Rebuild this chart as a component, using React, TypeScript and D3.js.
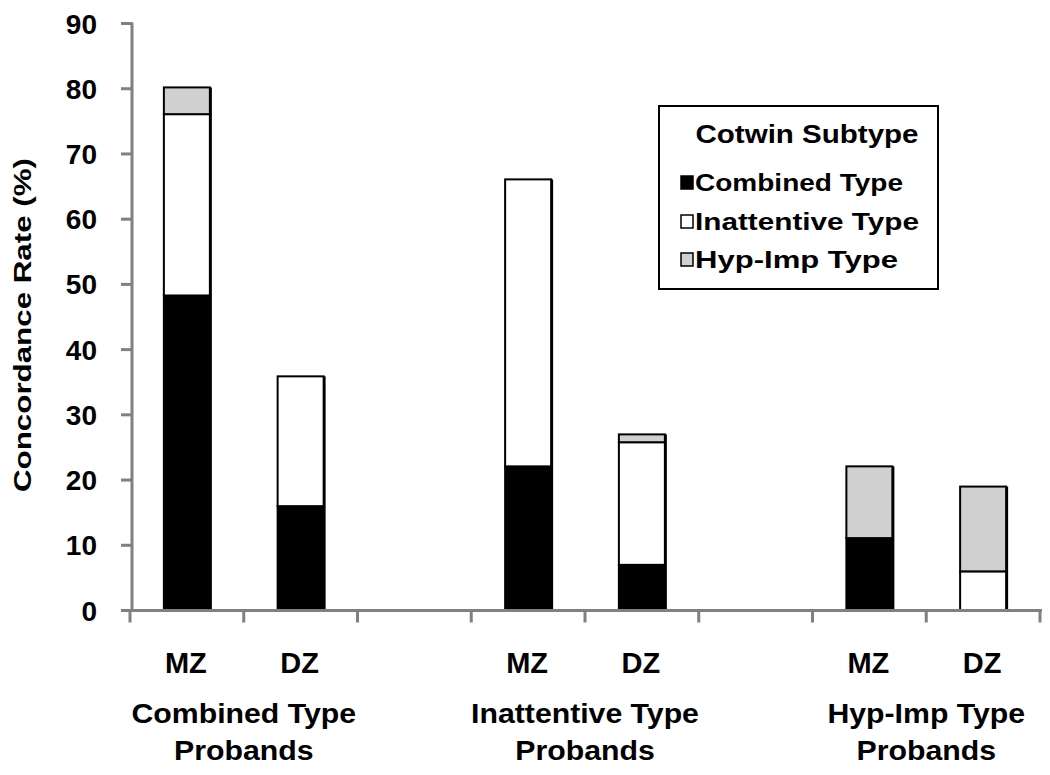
import React from "react";
import * as d3 from "d3";

const slots = ["CT-MZ", "CT-DZ", "gap1", "IT-MZ", "IT-DZ", "gap2", "HI-MZ", "HI-DZ"];
const barKeys = ["CT-MZ", "CT-DZ", "IT-MZ", "IT-DZ", "HI-MZ", "HI-DZ"];
const barLabels = ["MZ", "DZ", "MZ", "DZ", "MZ", "DZ"];
const groupLines = [
  ["Combined Type", "Probands"],
  ["Inattentive Type", "Probands"],
  ["Hyp-Imp Type", "Probands"],
];
const groupCenters = [
  ["CT-MZ", "CT-DZ"],
  ["IT-MZ", "IT-DZ"],
  ["HI-MZ", "HI-DZ"],
];
const combinedType = [48.3, 16.0, 22.1, 7.0, 11.1, 0];
const inattentiveType = [27.8, 19.9, 44.0, 18.8, 0, 6.0];
const hypImpType = [4.1, 0, 0, 1.2, 11.0, 13.0];
const seriesNames = ["Combined Type", "Inattentive Type", "Hyp-Imp Type"];
const seriesColors = ["#000000", "#ffffff", "#d0d0d0"];
const yTicks = [0, 10, 20, 30, 40, 50, 60, 70, 80, 90];

const FONT = "'Liberation Sans', Arial, sans-serif";

export default function App() {
  const x = d3.scaleBand().domain(slots).range([130, 1040]).padding(0);
  const y = d3.scaleLinear().domain([0, 90]).range([610.5, 23.5]);
  const rows = barKeys.map((k, i) => ({
    key: k,
    c: combinedType[i],
    n: inattentiveType[i],
    h: hypImpType[i],
  }));
  const stack = d3.stack<any>().keys(["c", "n", "h"]);
  const layers = stack(rows);
  const barW = 46;
  const axisColor = "#808080";
  const tickPositions = slots.map((s) => x(s)!).concat([x.range()[1]]);

  return (
    <svg
      width={1050}
      height={775}
      style={{ position: "absolute", left: 0, top: 0, background: "#fff" }}
      fontFamily={FONT}
    >
      <rect width={1050} height={775} fill="#fff" />
      {/* bars */}
      {layers.map((layer, li) =>
        layer.map((d, i) => {
          const v = d[1] - d[0];
          if (v <= 0) return null;
          const cx = x(rows[i].key)! + x.bandwidth() / 2;
          return (
            <rect
              key={`${li}-${i}`}
              x={cx - barW / 2}
              y={y(d[1])}
              width={barW}
              height={y(d[0]) - y(d[1])}
              fill={seriesColors[li]}
              stroke="#000"
              strokeWidth={2}
            />
          );
        })
      )}
      {/* right shadow edge of bars */}
      {rows.map((r, i) => {
        const top = layers[2][i][1];
        const cx = x(r.key)! + x.bandwidth() / 2;
        return (
          <line
            key={`sh-${i}`}
            x1={cx + barW / 2 + 1}
            x2={cx + barW / 2 + 1}
            y1={y(top)}
            y2={y(0)}
            stroke="#000"
            strokeWidth={2}
          />
        );
      })}
      {/* y axis */}
      <line x1={132} x2={132} y1={y(90) - 1} y2={y(0)} stroke={axisColor} strokeWidth={3} />
      {yTicks.map((t) => (
        <g key={t}>
          <line x1={121} x2={132} y1={y(t)} y2={y(t)} stroke={axisColor} strokeWidth={3} />
          <text
            x={97}
            y={y(t) + 10}
            textAnchor="end"
            fontSize={28}
            fontWeight="bold"
            fill="#000"
          >
            {t}
          </text>
        </g>
      ))}
      {/* x axis */}
      <line x1={130} x2={1042} y1={y(0)} y2={y(0)} stroke={axisColor} strokeWidth={3} />
      {tickPositions.map((p, i) => (
        <line key={i} x1={p} x2={p} y1={y(0)} y2={y(0) + 12} stroke={axisColor} strokeWidth={3} />
      ))}
      {/* bar labels */}
      {barKeys.map((k, i) => (
        <text
          key={k}
          x={x(k)! + x.bandwidth() / 2 - 1}
          y={673}
          textAnchor="middle"
          fontSize={29}
          fontWeight="bold"
          fill="#000"
        >
          {barLabels[i]}
        </text>
      ))}
      {/* group labels */}
      {groupLines.map((lines, gi) => {
        const cx = (x(groupCenters[gi][0])! + x(groupCenters[gi][1])! + x.bandwidth()) / 2;
        return (
          <g key={gi}>
            {lines.map((ln, li) => (
              <text
                key={li}
                transform={`translate(${cx},${723 + li * 37}) scale(1.08,1)`}
                textAnchor="middle"
                fontSize={28}
                fontWeight="bold"
                fill="#000"
              >
                {ln}
              </text>
            ))}
          </g>
        );
      })}
      {/* y axis title */}
      <text
        transform={`translate(31,325) rotate(-90)`}
        textAnchor="middle"
        fontSize={24}
        fontWeight="bold"
        fill="#000"
        textLength={334}
        lengthAdjust="spacingAndGlyphs"
      >
        Concordance Rate (%)
      </text>
      {/* legend */}
      <rect x={659} y={106} width={279} height={183} fill="#fff" stroke="#000" strokeWidth={2} />
      <text
        x={807}
        y={143}
        textAnchor="middle"
        fontSize={25}
        fontWeight="bold"
        fill="#000"
        textLength={223}
        lengthAdjust="spacingAndGlyphs"
      >
        Cotwin Subtype
      </text>
      {seriesNames.map((nm, i) => {
        const base = [191, 230, 268][i];
        const widths = [208, 224, 203];
        return (
          <g key={nm}>
            <rect
              x={681}
              y={base - 15}
              width={12}
              height={13}
              fill={seriesColors[i]}
              stroke="#000"
              strokeWidth={1.5}
            />
            <text
              x={695}
              y={base}
              fontSize={24}
              fontWeight="bold"
              fill="#000"
              textLength={widths[i]}
              lengthAdjust="spacingAndGlyphs"
            >
              {nm}
            </text>
          </g>
        );
      })}
    </svg>
  );
}
